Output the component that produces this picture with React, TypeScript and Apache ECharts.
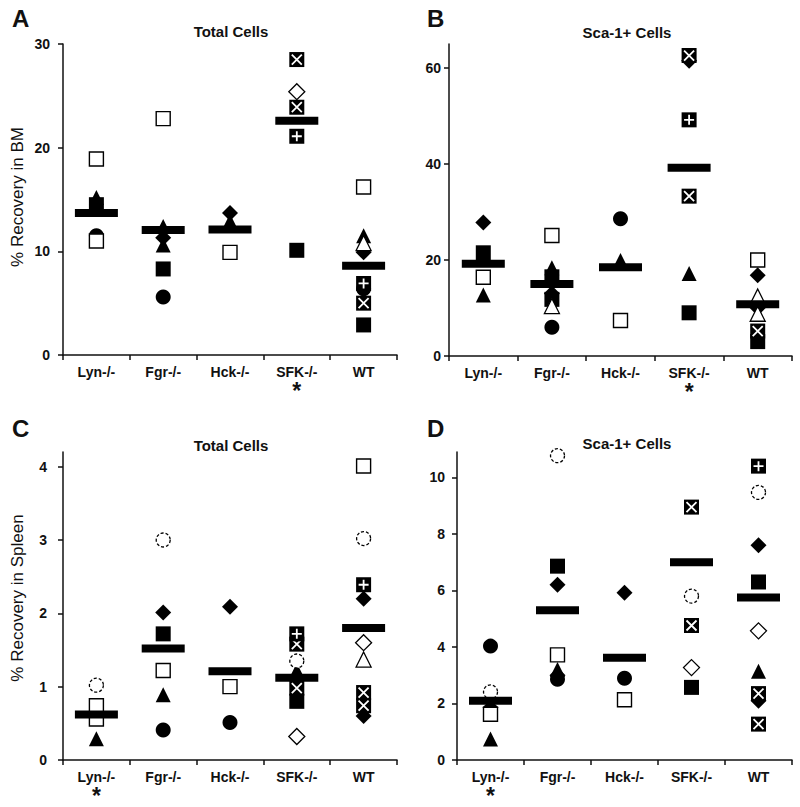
import React, { useEffect, useRef } from "react";
import * as echarts from "echarts";

const categories = ["Lyn-/-", "Fgr-/-", "Hck-/-", "SFK-/-", "WT"];

// [category index, value, marker kind]
type Pt = [number, number, string];

const bmTotalPoints: Pt[] = [
  [0, 18.9, "sqOpen"], [0, 15.2, "triFill"], [0, 14.5, "sqFill"], [0, 11.0, "sqOpen"], [0, 11.5, "circFill"],
  [1, 22.8, "sqOpen"], [1, 12.4, "triFill"], [1, 11.3, "diaFill"], [1, 10.6, "triFill"], [1, 8.3, "sqFill"], [1, 5.6, "circFill"],
  [2, 13.7, "diaFill"], [2, 12.9, "triFill"], [2, 9.9, "sqOpen"],
  [3, 28.5, "sqX"], [3, 25.4, "diaOpen"], [3, 23.9, "sqX"], [3, 21.1, "sqPlus"], [3, 10.1, "sqFill"],
  [4, 16.2, "sqOpen"], [4, 11.5, "triFill"], [4, 10.8, "triOpen"], [4, 9.9, "diaFill"], [4, 6.9, "sqPlus"], [4, 6.4, "circFill"], [4, 5.0, "sqX"], [4, 2.9, "sqFill"],
];
const bmTotalMeans = [13.7, 12.05, 12.1, 22.6, 8.6];
const bmTotalTicks = [0, 10, 20, 30];

const bmScaPoints: Pt[] = [
  [0, 27.8, "diaFill"], [0, 21.5, "sqFill"], [0, 16.4, "sqOpen"], [0, 12.7, "triFill"],
  [1, 25.1, "sqOpen"], [1, 18.4, "triFill"], [1, 16.5, "sqFill"], [1, 13.0, "diaFill"], [1, 11.8, "sqFill"], [1, 10.4, "triOpen"], [1, 6.0, "circFill"],
  [2, 28.6, "circFill"], [2, 19.9, "triFill"], [2, 7.4, "sqOpen"],
  [3, 61.5, "diaFill"], [3, 62.6, "sqX"], [3, 49.2, "sqPlus"], [3, 33.3, "sqX"], [3, 17.2, "triFill"], [3, 9.0, "sqFill"],
  [4, 20.0, "sqOpen"], [4, 16.8, "diaFill"], [4, 12.4, "triOpen"], [4, 10.0, "diaFill"], [4, 8.8, "triOpen"], [4, 5.2, "sqX"], [4, 3.0, "sqFill"],
];
const bmScaMeans = [19.2, 15.0, 18.5, 39.2, 10.8];
const bmScaTicks = [0, 20, 40, 60];

const spTotalPoints: Pt[] = [
  [0, 1.02, "circOpen"], [0, 0.74, "sqOpen"], [0, 0.56, "sqOpen"], [0, 0.62, "circFill"], [0, 0.29, "triFill"],
  [1, 3.0, "circOpen"], [1, 2.01, "diaFill"], [1, 1.72, "sqFill"], [1, 1.22, "sqOpen"], [1, 0.89, "triFill"], [1, 0.41, "circFill"],
  [2, 2.09, "diaFill"], [2, 1.0, "sqOpen"], [2, 0.51, "circFill"],
  [3, 1.58, "sqX"], [3, 1.72, "sqPlus"], [3, 1.35, "circOpen"], [3, 1.22, "triFill"], [3, 0.8, "sqFill"], [3, 0.98, "sqX"], [3, 0.32, "diaOpen"],
  [4, 4.01, "sqOpen"], [4, 3.02, "circOpen"], [4, 2.2, "diaFill"], [4, 2.39, "sqPlus"], [4, 1.6, "diaOpen"], [4, 1.37, "triOpen"], [4, 0.6, "diaFill"], [4, 0.74, "sqX"], [4, 0.92, "sqX"],
];
const spTotalMeans = [0.62, 1.52, 1.21, 1.12, 1.8];
const spTotalTicks = [0, 1, 2, 3, 4];

const spScaPoints: Pt[] = [
  [0, 4.03, "circFill"], [0, 2.41, "circOpen"], [0, 1.62, "sqOpen"], [0, 1.86, "diaFill"], [0, 0.74, "triFill"],
  [1, 10.77, "circOpen"], [1, 6.86, "sqFill"], [1, 6.2, "diaFill"], [1, 3.72, "sqOpen"], [1, 3.2, "triFill"], [1, 3.0, "diaFill"], [1, 2.86, "circFill"],
  [2, 5.92, "diaFill"], [2, 2.89, "circFill"], [2, 2.13, "sqOpen"],
  [3, 8.95, "sqX"], [3, 5.8, "circOpen"], [3, 4.76, "sqX"], [3, 3.27, "diaOpen"], [3, 2.57, "sqFill"],
  [4, 10.4, "sqPlus"], [4, 9.47, "circOpen"], [4, 7.6, "diaFill"], [4, 6.3, "sqFill"], [4, 4.57, "diaOpen"], [4, 3.14, "triFill"], [4, 2.1, "diaFill"], [4, 2.35, "sqX"], [4, 1.27, "sqX"],
];
const spScaMeans = [2.1, 5.3, 3.62, 7.0, 5.75];
const spScaTicks = [0, 2, 4, 6, 8, 10];

const panelTitles = ["Total Cells", "Sca-1+ Cells", "Total Cells", "Sca-1+ Cells"];
const panelLetters = ["A", "B", "C", "D"];
const yAxisNames = ["% Recovery in BM", "% Recovery in Spleen"];

const FONT = "'Liberation Sans', Arial, Helvetica, sans-serif";
const INK = "#111";

const KINDS: Record<string, { symbol: string; size: number; itemStyle: any; z: number }> = {
  sqFill: { symbol: "rect", size: 15, itemStyle: { color: "#000" }, z: 2 },
  circFill: { symbol: "circle", size: 15, itemStyle: { color: "#000" }, z: 2 },
  triFill: { symbol: "triangle", size: 15, itemStyle: { color: "#000" }, z: 2 },
  diaFill: { symbol: "diamond", size: 16, itemStyle: { color: "#000" }, z: 2 },
  sqOpen: { symbol: "rect", size: 14, itemStyle: { color: "#fff", borderColor: "#000", borderWidth: 1.4 }, z: 3 },
  circOpen: { symbol: "circle", size: 14, itemStyle: { color: "#fff", borderColor: "#000", borderWidth: 1.3, borderType: [3, 2] }, z: 3 },
  triOpen: { symbol: "triangle", size: 15, itemStyle: { color: "#fff", borderColor: "#000", borderWidth: 1.3 }, z: 3 },
  diaOpen: { symbol: "diamond", size: 16, itemStyle: { color: "#fff", borderColor: "#000", borderWidth: 1.3 }, z: 3 },
  sqX: { symbol: "rect", size: 15, itemStyle: { color: "#000" }, z: 4 },
  sqPlus: { symbol: "rect", size: 15, itemStyle: { color: "#000" }, z: 4 },
};
const OVERLAYS: Record<string, string> = {
  sqX: "path://M0,0L10,10M10,0L0,10",
  sqPlus: "path://M5,0L5,10M0,5L10,5",
};

const panels = [
  { points: bmTotalPoints, means: bmTotalMeans, ticks: bmTotalTicks, max: 30, grid: { left: 63, top: 44, width: 334, height: 311 }, labelMargin: 13, star: 3 },
  { points: bmScaPoints, means: bmScaMeans, ticks: bmScaTicks, max: 65, grid: { left: 449, top: 44, width: 343, height: 312 }, labelMargin: 8, star: 3 },
  { points: spTotalPoints, means: spTotalMeans, ticks: spTotalTicks, max: 4.2, grid: { left: 63, top: 452, width: 334, height: 309 }, labelMargin: 16, star: 0 },
  { points: spScaPoints, means: spScaMeans, ticks: spScaTicks, max: 10.9, grid: { left: 457, top: 452, width: 335, height: 309 }, labelMargin: 12, star: 0 },
];

const titlePos = [[231, 31], [627, 32], [231, 445], [627, 443]];
const letterPos = [[12, 6], [427, 6], [12, 416], [427, 416]];
const yNamePos = [[17, 197], [17, 598]];

function buildOption() {
  const grid: any[] = [];
  const xAxis: any[] = [];
  const yAxis: any[] = [];
  const series: any[] = [];
  const graphic: any[] = [];

  panels.forEach((p, i) => {
    grid.push({ ...p.grid, containLabel: false });
    xAxis.push({
      type: "category",
      gridIndex: i,
      data: categories,
      boundaryGap: true,
      axisLine: { show: true, lineStyle: { color: INK, width: 1.5 } },
      axisTick: { show: true, length: 5, lineStyle: { color: INK, width: 1.5 } },
      axisLabel: {
        interval: 0,
        margin: 8,
        formatter: (v: string, idx: number) => (idx === p.star ? `{n|${v}}\n{s|*}` : `{n|${v}}`),
        rich: {
          n: { fontFamily: FONT, fontSize: 14, fontWeight: "bold", color: INK, lineHeight: 17 },
          s: { fontFamily: FONT, fontSize: 23, fontWeight: "bold", color: INK, lineHeight: 20, padding: [1, 0, 0, 0] },
        },
      },
      splitLine: { show: false },
    });
    yAxis.push({
      type: "value",
      gridIndex: i,
      min: 0,
      max: p.max,
      axisLine: { show: true, lineStyle: { color: INK, width: 1.5 } },
      axisTick: { show: true, length: 5, customValues: p.ticks, lineStyle: { color: INK, width: 1.5 } },
      axisLabel: {
        customValues: p.ticks,
        margin: p.labelMargin,
        fontFamily: FONT,
        fontSize: 14,
        fontWeight: "bold",
        color: INK,
      },
      splitLine: { show: false },
    });

    Object.keys(KINDS).forEach((kind) => {
      const data = p.points.filter((pt) => pt[2] === kind).map((pt) => [categories[pt[0]], pt[1]]);
      if (!data.length) return;
      const k = KINDS[kind];
      series.push({
        type: "scatter",
        xAxisIndex: i,
        yAxisIndex: i,
        symbol: k.symbol,
        symbolSize: k.size,
        itemStyle: { ...k.itemStyle, opacity: 1 },
        z: k.z,
        silent: true,
        data,
      });
      if (OVERLAYS[kind]) {
        series.push({
          type: "scatter",
          xAxisIndex: i,
          yAxisIndex: i,
          symbol: OVERLAYS[kind],
          symbolSize: 10,
          itemStyle: { color: "rgba(0,0,0,0)", borderColor: "#fff", borderWidth: 1.8, opacity: 1 },
          z: k.z,
          silent: true,
          data,
        });
      }
    });

    series.push({
      type: "scatter",
      xAxisIndex: i,
      yAxisIndex: i,
      symbol: "rect",
      symbolSize: [43, 8],
      itemStyle: { color: "#000", opacity: 1 },
      z: 5,
      silent: true,
      data: p.means.map((m, c) => [categories[c], m]),
    });

    graphic.push({
      type: "text",
      x: titlePos[i][0],
      y: titlePos[i][1],
      style: { text: panelTitles[i], fontFamily: FONT, fontSize: 15, fontWeight: "bold", fill: INK, align: "center", verticalAlign: "middle" },
    });
    graphic.push({
      type: "text",
      x: letterPos[i][0],
      y: letterPos[i][1],
      style: { text: panelLetters[i], fontFamily: FONT, fontSize: 24, fontWeight: "bold", fill: INK, align: "left", verticalAlign: "top" },
    });
  });

  yAxisNames.forEach((name, j) => {
    graphic.push({
      type: "text",
      x: yNamePos[j][0],
      y: yNamePos[j][1],
      rotation: Math.PI / 2,
      style: { text: name, fontFamily: FONT, fontSize: 17, fill: INK, align: "center", verticalAlign: "middle" },
    });
  });

  return { animation: false, backgroundColor: "#fff", grid, xAxis, yAxis, series, graphic };
}

export default function App() {
  const ref = useRef<HTMLDivElement>(null);
  useEffect(() => {
    if (!ref.current) return;
    const chart = echarts.init(ref.current, undefined, { renderer: "svg" });
    chart.setOption(buildOption() as any);
    return () => chart.dispose();
  }, []);
  return <div ref={ref} style={{ position: "absolute", left: 0, top: 0, width: 800, height: 807, background: "#fff" }} />;
}
